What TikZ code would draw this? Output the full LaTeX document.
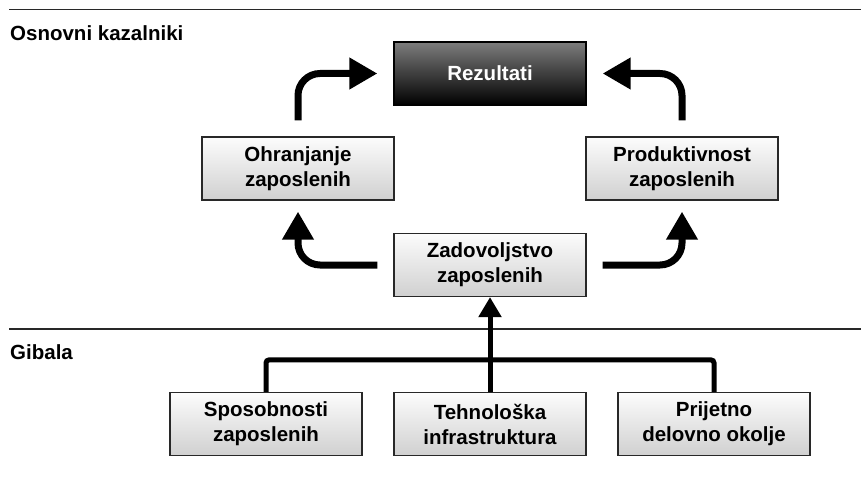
\documentclass[tikz,border=0pt]{standalone}
\usepackage{fontspec}
\setmainfont{Liberation Sans}
\usetikzlibrary{calc,arrows.meta}
\definecolor{boxtop}{RGB}{252,252,252}
\definecolor{boxbottom}{RGB}{208,208,208}
\definecolor{resulttop}{RGB}{125,125,125}
\definecolor{rulegray}{RGB}{40,40,40}
\tikzset{
  label-text/.style={
    font=\fontsize{20.5}{25}\selectfont\bfseries,
    align=center
  },
  box/.style={
    label-text,
    draw=rulegray,
    line width=1.2pt,
    minimum width=192pt,
    minimum height=63pt,
    inner sep=0pt,
    top color=boxtop,
    bottom color=boxbottom
  },
  box-dark/.style={
    box,
    draw=black,
    top color=resulttop,
    bottom color=black,
    text=white
  },
  section-rule/.style={line width=1.5pt, draw=rulegray},
  section-title/.style={label-text, anchor=west, inner sep=0pt},
  flow/.style={
    line width=7pt,
    rounded corners=22pt,
    -{Triangle[length=28pt,width=30pt]}
  },
  feed/.style={
    line width=5pt,
    rounded corners=3pt
  }
}

\begin{document}
\begin{tikzpicture}[x=1pt,y=1pt]
  \useasboundingbox (0,0) rectangle (861,483);
  % Sections
  \draw[section-rule] (9,473.5) -- (861,473.5);
  \node[section-title] (osnovni) at (10,450) {Osnovni kazalniki};
  \draw[section-rule] (9,154) -- (861,154);
  \node[section-title] (gibala) at (10,131) {Gibala};
  % Indicators
  \node[box-dark] (rez) at (490,409.5) {Rezultati};
  \node[box] (ohr) at (298,314.5) {Ohranjanje\\zaposlenih};
  \node[box] (pro) at (682,314.5) {Produktivnost\\zaposlenih};
  \node[box] (zad) at (490,218) {Zadovoljstvo\\zaposlenih};
  % Drivers
  \node[box] (spo) at (266,59) {Sposobnosti\\zaposlenih};
  \node[box] (teh) at (490,59) {Tehnološka\\infrastruktura};
  \node[box] (pri) at (714,59) {Prijetno\\delovno okolje};
  % Arrow ends
  \coordinate (ohrTop) at ($(ohr.north)+(0,16)$);
  \coordinate (proTop) at ($(pro.north)+(0,16)$);
  \coordinate (rezLeft) at ($(rez.west)+(-16,0)$);
  \coordinate (rezRight) at ($(rez.east)+(16,0)$);
  \coordinate (zadLeft) at ($(zad.west)+(-16,0)$);
  \coordinate (zadRight) at ($(zad.east)+(16,0)$);
  \coordinate (ohrBottom) at ($(ohr.south)+(0,-11)$);
  \coordinate (proBottom) at ($(pro.south)+(0,-11)$);
  \coordinate (joint) at ($(teh.north)+(0,32)$);
  % Cycle
  \draw[flow] (ohrTop) |- (rezLeft);
  \draw[flow] (proTop) |- (rezRight);
  \draw[flow] (zadLeft) -| (ohrBottom);
  \draw[flow] (zadRight) -| (proBottom);
  % Drivers to satisfaction
  \draw[feed] (spo.north) |- (joint) -| (pri.north);
  \draw[feed, -{Triangle[length=20pt,width=22pt]}] (teh.north) -- (zad.south);
\end{tikzpicture}
\end{document}
